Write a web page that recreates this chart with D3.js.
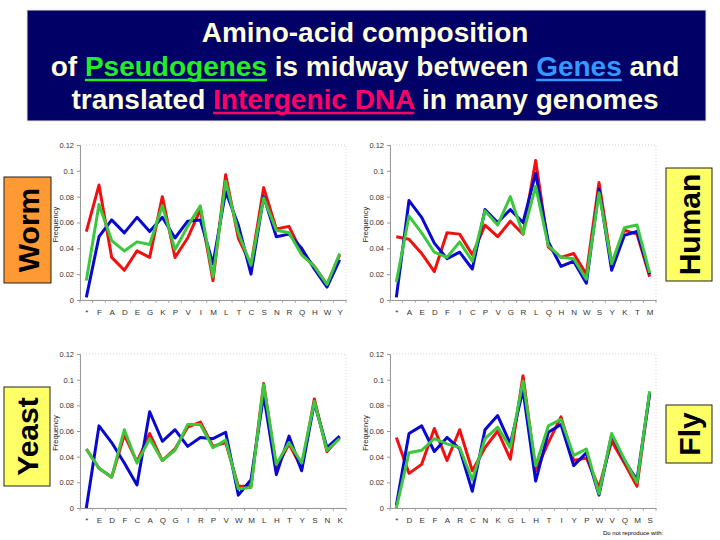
<!DOCTYPE html>
<html>
<head>
<meta charset="utf-8">
<script src="https://cdn.jsdelivr.net/npm/d3@7/dist/d3.min.js"></script>
<style>
  html, body { margin: 0; padding: 0; background: #ffffff; }
  svg { display: block; }
</style>
</head>
<body>
<svg id="chart" width="720" height="540"></svg>
<script>
// ---------------- DATA ----------------
const yTicks = [0, 0.02, 0.04, 0.06, 0.08, 0.1, 0.12];
const yTickLabels = ["0", "0.02", "0.04", "0.06", "0.08", "0.1", "0.12"];

const wormAA = ["*","F","A","D","E","G","K","P","V","I","M","L","T","C","S","N","R","Q","H","W","Y"];
const wormIntergenic = [0.053,0.089,0.033,0.023,0.038,0.033,0.080,0.033,0.048,0.070,0.015,0.097,0.048,0.027,0.087,0.055,0.057,0.037,0.026,0.012,0.035];
const wormGenes      = [0.002,0.049,0.062,0.052,0.064,0.053,0.064,0.048,0.061,0.062,0.028,0.084,0.058,0.020,0.080,0.049,0.051,0.040,0.024,0.010,0.031];
const wormPseudo     = [0.015,0.074,0.046,0.038,0.045,0.043,0.073,0.039,0.057,0.073,0.018,0.092,0.052,0.027,0.079,0.054,0.052,0.035,0.026,0.012,0.036];

const humanAA = ["*","A","E","D","F","I","C","P","V","G","R","L","Q","H","N","W","S","Y","K","T","M"];
const humanIntergenic = [0.049,0.047,0.036,0.022,0.052,0.051,0.035,0.058,0.049,0.061,0.051,0.108,0.041,0.033,0.036,0.020,0.091,0.028,0.054,0.051,0.018];
const humanGenes      = [0.002,0.077,0.064,0.044,0.032,0.037,0.024,0.070,0.060,0.070,0.060,0.098,0.045,0.026,0.030,0.013,0.086,0.023,0.050,0.053,0.020];
const humanPseudo     = [0.014,0.065,0.052,0.037,0.033,0.045,0.030,0.069,0.058,0.080,0.051,0.088,0.042,0.033,0.032,0.016,0.083,0.028,0.056,0.058,0.021];

const yeastAA = ["*","E","D","F","C","A","Q","G","I","R","P","V","W","M","L","H","T","Y","S","N","K"];
const yeastIntergenic = [0.046,0.031,0.024,0.057,0.036,0.058,0.037,0.046,0.063,0.067,0.048,0.051,0.017,0.017,0.097,0.031,0.050,0.031,0.085,0.044,0.055];
const yeastGenes      = [0.000,0.064,0.051,0.035,0.018,0.075,0.052,0.061,0.048,0.055,0.054,0.059,0.010,0.022,0.088,0.026,0.056,0.029,0.082,0.047,0.056];
const yeastPseudo     = [0.046,0.031,0.024,0.061,0.035,0.054,0.037,0.045,0.065,0.065,0.047,0.053,0.015,0.016,0.096,0.034,0.051,0.035,0.083,0.045,0.054];

const flyAA = ["*","D","E","F","A","R","C","N","K","G","L","H","T","I","Y","P","W","V","Q","M","S"];
const flyIntergenic = [0.055,0.027,0.034,0.062,0.037,0.061,0.029,0.047,0.060,0.038,0.103,0.029,0.051,0.071,0.037,0.039,0.016,0.052,0.035,0.017,0.090];
const flyGenes      = [0.002,0.058,0.064,0.044,0.055,0.046,0.013,0.061,0.072,0.050,0.092,0.021,0.059,0.065,0.033,0.043,0.010,0.057,0.037,0.022,0.089];
const flyPseudo     = [0.000,0.043,0.045,0.054,0.050,0.047,0.022,0.054,0.063,0.047,0.099,0.033,0.064,0.069,0.041,0.046,0.011,0.058,0.038,0.020,0.091];

const organisms = ["Worm", "Human", "Yeast", "Fly"];
// ---------------------------------------

const svg = d3.select("#chart");
const FONT = "'Liberation Sans', Arial, Helvetica, sans-serif";

// ---- Title box ----
svg.append("rect").attr("x", 27).attr("y", 10).attr("width", 679).attr("height", 111)
  .attr("fill", "#000066").attr("stroke", "#e8e8d0").attr("stroke-width", 1);

const titleLines = [
  [{t: "Amino-acid composition", c: "#ffffdd"}],
  [{t: "of ", c: "#ffffdd"}, {t: "Pseudogenes", c: "#22ee22", u: true}, {t: " is midway between ", c: "#ffffdd"}, {t: "Genes", c: "#3399ff", u: true}, {t: " and", c: "#ffffdd"}],
  [{t: "translated ", c: "#ffffdd"}, {t: "Intergenic DNA", c: "#ff0066", u: true}, {t: " in many genomes", c: "#ffffdd"}]
];
const titleBase = [42, 76, 109];
titleLines.forEach((parts, i) => {
  const txt = svg.append("text").attr("x", 365).attr("y", titleBase[i])
    .attr("text-anchor", "middle").attr("font-family", FONT).attr("font-weight", "bold")
    .attr("font-size", 28);
  parts.forEach(p => txt.append("tspan").attr("fill", p.c).text(p.t));
  let idx = 0;
  parts.forEach(p => {
    if (p.u) {
      const node = txt.node();
      const s = node.getStartPositionOfChar(idx).x;
      const e = node.getEndPositionOfChar(idx + p.t.length - 1).x;
      svg.append("line").attr("x1", s).attr("x2", e)
        .attr("y1", titleBase[i] + 4).attr("y2", titleBase[i] + 4)
        .attr("stroke", p.c).attr("stroke-width", 2.5);
    }
    idx += p.t.length;
  });
});

// ---- Panels ----
const panels = [
  {aa: wormAA,  s: [wormIntergenic, wormGenes, wormPseudo],   x0: 80,  x1: 346, yb: 300, yt: 145},
  {aa: humanAA, s: [humanIntergenic, humanGenes, humanPseudo], x0: 390, x1: 656, yb: 300, yt: 145},
  {aa: yeastAA, s: [yeastIntergenic, yeastGenes, yeastPseudo], x0: 80,  x1: 346, yb: 508, yt: 354},
  {aa: flyAA,   s: [flyIntergenic, flyGenes, flyPseudo],       x0: 390, x1: 656, yb: 508, yt: 354}
];
const seriesColors = ["#f01010", "#0808d0", "#3cc83c"];

panels.forEach(p => {
  const g = svg.append("g");
  const x = d3.scalePoint().domain(p.aa).range([p.x0, p.x1]).padding(0.5);
  const y = d3.scaleLinear().domain([0, 0.12]).range([p.yb, p.yt]);

  // dotted frame
  g.append("rect").attr("x", p.x0).attr("y", p.yt).attr("width", p.x1 - p.x0).attr("height", p.yb - p.yt)
    .attr("fill", "none").attr("stroke", "#c8c8c8").attr("stroke-width", 0.8).attr("stroke-dasharray", "1,2");

  // y axis
  const ya = g.append("g").attr("transform", `translate(${p.x0},0)`)
    .call(d3.axisLeft(y).tickValues(yTicks).tickFormat((d, i) => yTickLabels[i]).tickSize(3).tickPadding(3));
  ya.select(".domain").attr("stroke", "#999");
  ya.selectAll(".tick line").attr("stroke", "#999");
  ya.selectAll("text").attr("font-family", FONT).attr("font-size", 7.5).attr("fill", "#333");

  // x axis
  const xa = g.append("g").attr("transform", `translate(0,${p.yb})`)
    .call(d3.axisBottom(x).tickSize(0).tickPadding(9));
  xa.select(".domain").attr("stroke", "#999");
  xa.selectAll("text").attr("font-family", FONT).attr("font-size", 8).attr("fill", "#333");
  const step = x.step();
  g.selectAll(".xt").data(d3.range(p.aa.length + 1)).enter().append("line")
    .attr("x1", i => p.x0 + i * step).attr("x2", i => p.x0 + i * step)
    .attr("y1", p.yb).attr("y2", p.yb + 3).attr("stroke", "#999").attr("stroke-width", 0.8);

  // y label
  g.append("text").attr("transform", `translate(${p.x0 - 22},${(p.yb + p.yt) / 2 + 2}) rotate(-90)`)
    .attr("text-anchor", "middle").attr("font-family", FONT).attr("font-size", 7.5).attr("fill", "#222")
    .text("Frequency");

  // lines
  const line = d3.line().x((d, i) => x(p.aa[i])).y(d => y(d));
  p.s.forEach((vals, k) => {
    g.append("path").datum(vals).attr("d", line).attr("fill", "none")
      .attr("stroke", seriesColors[k]).attr("stroke-width", 3).attr("stroke-linejoin", "round");
  });
});

// ---- Organism label boxes ----
const boxes = [
  {name: organisms[0], x: 4,   y: 177, w: 47, h: 106, fill: "#ff9933"},
  {name: organisms[1], x: 666, y: 168, w: 46, h: 113, fill: "#ffff66"},
  {name: organisms[2], x: 4,   y: 387, w: 46, h: 99,  fill: "#ffff66"},
  {name: organisms[3], x: 666, y: 405, w: 46, h: 58,  fill: "#ffff66"}
];
boxes.forEach(b => {
  svg.append("rect").attr("x", b.x).attr("y", b.y).attr("width", b.w).attr("height", b.h)
    .attr("fill", b.fill).attr("stroke", "#222").attr("stroke-width", 1);
  svg.append("text")
    .attr("transform", `translate(${b.x + b.w / 2 + 11},${b.y + b.h / 2}) rotate(-90)`)
    .attr("text-anchor", "middle").attr("font-family", FONT).attr("font-weight", "bold")
    .attr("font-size", 30).attr("fill", "#000").text(b.name);
});

// ---- footer ----
svg.append("text").attr("x", 603).attr("y", 535).attr("font-family", FONT)
  .attr("font-size", 6).attr("fill", "#000").text("Do not reproduce with:");
</script>
</body>
</html>
